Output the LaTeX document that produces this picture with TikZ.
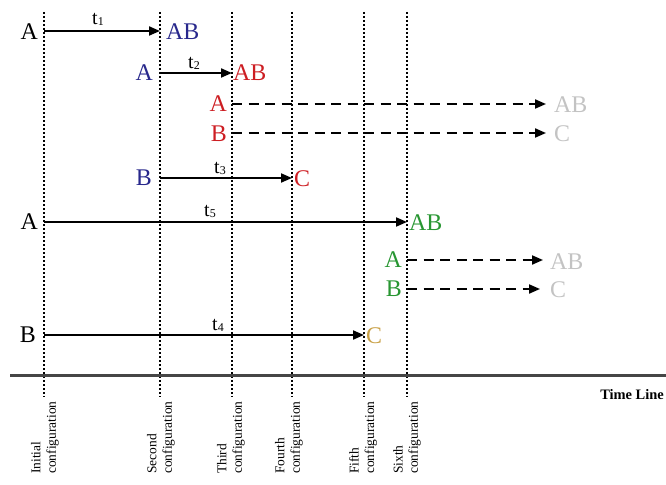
\documentclass[tikz,border=0pt]{standalone}
\usepackage{fontspec}
\setmainfont{Liberation Serif}
\usetikzlibrary{arrows.meta}
\definecolor{cblue}{RGB}{40,40,140}
\definecolor{cred}{RGB}{205,30,35}
\definecolor{cgreen}{RGB}{40,150,50}
\definecolor{cgold}{RGB}{200,160,70}
\definecolor{cgray}{RGB}{195,195,195}
\definecolor{tlcol}{RGB}{70,70,70}
\newcommand{\tsub}[1]{t\raisebox{-1bp}{\fontsize{12}{12}\selectfont #1}}
\begin{document}
\begin{tikzpicture}[x=1bp,y=-1bp,
  big/.style={font=\fontsize{24}{26}\selectfont, inner sep=0pt},
  tlab/.style={font=\fontsize{20}{20}\selectfont, inner sep=0pt},
  cfg/.style={font=\fontsize{13.5}{15.5}\selectfont, rotate=90, anchor=west, align=left, inner sep=0pt},
  vline/.style={line width=2bp, dash pattern=on 2bp off 2bp},
  arr/.style={line width=2bp, -{Triangle[length=11bp,width=9bp]}},
  darr/.style={arr, dash pattern=on 10bp off 6.5bp},
]
\useasboundingbox (0,0) rectangle (666,485);

% vertical dotted configuration lines
\foreach \n/\x in {c1/44,c2/160,c3/232,c4/292,c5/364,c6/407}{
  \coordinate (\n top) at (\x,12);
  \coordinate (\n bot) at (\x,397);
  \draw[vline] (\n top) -- (\n bot);
}

% time line
\coordinate (tls) at (10,375);
\coordinate (tle) at (666,375);
\draw[line width=3bp, tlcol] (tls) -- (tle);
\node[font=\bfseries\fontsize{14.5}{16}\selectfont, anchor=east, inner sep=0pt] (tltext) at (664,395) {Time Line};

% configuration labels
\node[cfg] (l1) at (45,474) {Initial\\configuration};
\node[cfg] (l2) at (161,474) {Second\\configuration};
\node[cfg] (l3) at (231,474) {Third\\configuration};
\node[cfg] (l4) at (289,474) {Fourth\\configuration};
\node[cfg] (l5) at (363,474) {Fifth\\configuration};
\node[cfg] (l6) at (407,474) {Sixth\\configuration};

% row 1
\node[big, anchor=east] (a1) at (38,32) {A};
\node[big, anchor=west, cblue] (ab1) at (166,32) {AB};
\coordinate (s1) at (44,31); \coordinate (e1) at (160,31);
\draw[arr] (s1) -- (e1);
\node[tlab] (t1) at (98,19) {\tsub{1}};

% row 2
\node[big, anchor=east, cblue] (a2) at (153,73) {A};
\node[big, anchor=west, cred] (ab2) at (233,73) {AB};
\coordinate (s2) at (160,73); \coordinate (e2) at (232,73);
\draw[arr] (s2) -- (e2);
\node[tlab] (t2) at (194,63) {\tsub{2}};

% row 3 and 4 (dashed)
\node[big, anchor=east, cred] (a3) at (227,104) {A};
\node[big, anchor=west, cgray] (ab3) at (554,105) {AB};
\coordinate (s3) at (232,104); \coordinate (e3) at (546,104);
\draw[darr] (s3) -- (e3);

\node[big, anchor=east, cred] (b4) at (227,134) {B};
\node[big, anchor=west, cgray] (c4) at (554,134) {C};
\coordinate (s4) at (232,133); \coordinate (e4) at (546,133);
\draw[darr] (s4) -- (e4);

% row 5
\node[big, anchor=east, cblue] (b5) at (152,178) {B};
\node[big, anchor=west, cred] (c5) at (294,179) {C};
\coordinate (s5) at (160,178); \coordinate (e5) at (292,178);
\draw[arr] (s5) -- (e5);
\node[tlab] (t3) at (220,168) {\tsub{3}};

% row 6
\node[big, anchor=east, black] (a6) at (38,222) {A};
\node[big, anchor=west, cgreen] (ab6) at (409,223) {AB};
\coordinate (s6) at (44,222); \coordinate (e6) at (407,222);
\draw[arr] (s6) -- (e6);
\node[tlab] (t5) at (210,211) {\tsub{5}};

% row 7 and 8 (dashed)
\node[big, anchor=east, cgreen] (a7) at (402,260) {A};
\node[big, anchor=west, cgray] (ab7) at (550,262) {AB};
\coordinate (s7) at (407,260); \coordinate (e7) at (543,260);
\draw[darr] (s7) -- (e7);

\node[big, anchor=east, cgreen] (b8) at (402,289) {B};
\node[big, anchor=west, cgray] (c8) at (550,290) {C};
\coordinate (s8) at (407,289); \coordinate (e8) at (540,289);
\draw[darr] (s8) -- (e8);

% row 9
\node[big, anchor=east, black] (b9) at (36,335) {B};
\node[big, anchor=west, cgold] (c9) at (366,336) {C};
\coordinate (s9) at (44,335); \coordinate (e9) at (364,335);
\draw[arr] (s9) -- (e9);
\node[tlab] (t4) at (218,325) {\tsub{4}};
\end{tikzpicture}
\end{document}
